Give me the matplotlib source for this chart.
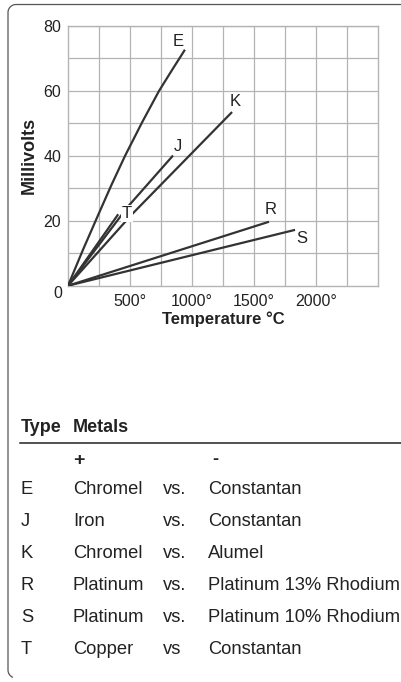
import matplotlib
matplotlib.use("Agg")
import matplotlib.pyplot as plt
import numpy as np
from matplotlib.lines import Line2D

# thermocouple curves (temperature degC, millivolts)
temp_E = [0, 120, 240, 350, 460, 600, 734, 840, 943]
mv_E = [0, 11, 21.5, 31, 40, 50.5, 60, 66.5, 72.7]
temp_J = [0, 484, 847]
mv_J = [0, 24.4, 40.1]
temp_K = [0, 516, 1323]
mv_K = [0, 22.0, 53.5]
temp_T = [0, 405]
mv_T = [0, 22.0]
temp_R = [0, 1621]
mv_R = [0, 19.7]
temp_S = [0, 1831]
mv_S = [0, 17.2]

curve_names = ['E', 'J', 'K', 'T', 'R', 'S']
label_x = [887, 887, 1347, 476, 1637, 1887]
label_y = [75.1, 42.9, 56.6, 22.2, 23.4, 14.5]

x_ticks = [500, 1000, 1500, 2000]
x_ticklabels = ['500°', '1000°', '1500°', '2000°']
y_ticks = [20, 40, 60, 80]

# table of metals
types = ['E', 'J', 'K', 'R', 'S', 'T']
plus_metal = ['Chromel', 'Iron', 'Chromel', 'Platinum', 'Platinum', 'Copper']
vs_word = ['vs.', 'vs.', 'vs.', 'vs.', 'vs.', 'vs']
minus_metal = ['Constantan', 'Constantan', 'Alumel', 'Platinum 13% Rhodium',
               'Platinum 10% Rhodium', 'Constantan']

W, H = 401, 682
plain = ['Liberation Sans', 'DejaVu Sans']
txt_c = '#222222'


def fx(x):
    return x / W


def fy(y):
    return 1 - y / H


fig = plt.figure(figsize=(W / 100, H / 100), dpi=100)

# axes box in pixels: x 68..378, y 26..285.7
ax = fig.add_axes([fx(68), fy(285.7), (378 - 68) / W, (285.7 - 26) / H])
ax.set_xlim(0, 2500)
ax.set_ylim(0, 80)

grid_c = '#b4b4b4'
ax.set_xticks(np.arange(250, 2500, 250), minor=True)
ax.set_yticks(np.arange(10, 80, 10), minor=True)
ax.set_xticks(x_ticks)
ax.set_xticklabels(x_ticklabels, family=plain, fontsize=11.5, color=txt_c)
ax.set_yticks(y_ticks)
ax.set_yticklabels([str(v) for v in y_ticks], family=plain, fontsize=11.5,
                   color=txt_c)
ax.grid(True, which='both', color=grid_c, lw=0.9)
ax.set_axisbelow(True)
for s in ax.spines.values():
    s.set_color(grid_c)
    s.set_linewidth(1.0)
ax.tick_params(which='both', length=0, pad=5)
ax.tick_params(axis='x', pad=6)

line_c = '#333333'
for xs, ys in [(temp_E, mv_E), (temp_J, mv_J), (temp_K, mv_K),
               (temp_T, mv_T), (temp_R, mv_R), (temp_S, mv_S)]:
    ax.plot(xs, ys, color=line_c, lw=1.6, solid_capstyle='butt', zorder=3)

for name, lx, ly in zip(curve_names, label_x, label_y):
    bb = None
    if name == 'T':
        bb = dict(facecolor='white', edgecolor='none', pad=0.6)
    ax.text(lx, ly, name, ha='center', va='center', fontsize=12,
            family=plain, color=txt_c, bbox=bb, zorder=4)

ax.annotate('0', xy=(0, 0), xytext=(-10, -8), textcoords='offset pixels',
            ha='center', va='center', family=plain, fontsize=11.5,
            color=txt_c, annotation_clip=False)

ax.set_xlabel('Temperature °C', family=plain, fontweight='bold',
              fontsize=12, color=txt_c, labelpad=2)
ax.set_ylabel('Millivolts', family=plain, fontweight='bold',
              fontsize=13, color=txt_c, labelpad=4)

# rounded frame on the left side
frame_c = '#555555'
r = 8
q = np.linspace(np.pi / 2, np.pi, 20)
xs = [W, 8 + r] + list(8 + r + r * np.cos(q))
ys = [4.5, 4.5] + list(4.5 + r - r * np.sin(q))
xs += [8, 8]
ys += [4.5 + r, 670]
b = np.linspace(np.pi, 1.35 * np.pi, 12)
xs += list(8 + r + r * np.cos(b))
ys += list(670 - r * np.sin(b))
fig.add_artist(Line2D([fx(v) for v in xs], [fy(v) for v in ys],
                      transform=fig.transFigure, color=frame_c, lw=0.9))

# table
fig.text(fx(21), fy(427), 'Type', family=plain, fontweight='bold',
         fontsize=13, color=txt_c, va='center')
fig.text(fx(73), fy(427), 'Metals', family=plain, fontweight='bold',
         fontsize=13, color=txt_c, va='center')
fig.add_artist(Line2D([fx(20), fx(W)], [fy(442.5), fy(442.5)],
                      transform=fig.transFigure, color=txt_c, lw=1.1))
fig.text(fx(73), fy(460), '+', family=plain, fontweight='bold',
         fontsize=14, color=txt_c, va='center')
fig.text(fx(212), fy(460), '-', family=plain, fontweight='bold',
         fontsize=13, color=txt_c, va='center')

row_y = [490, 522, 554, 586, 617, 649]
for t, p, v, m, yy in zip(types, plus_metal, vs_word, minus_metal, row_y):
    for xx, s in [(21, t), (73, p), (163, v), (208, m)]:
        fig.text(fx(xx), fy(yy), s, family=plain, fontsize=13.2,
                 color=txt_c, va='center')

fig.savefig('out.png', dpi=100)
